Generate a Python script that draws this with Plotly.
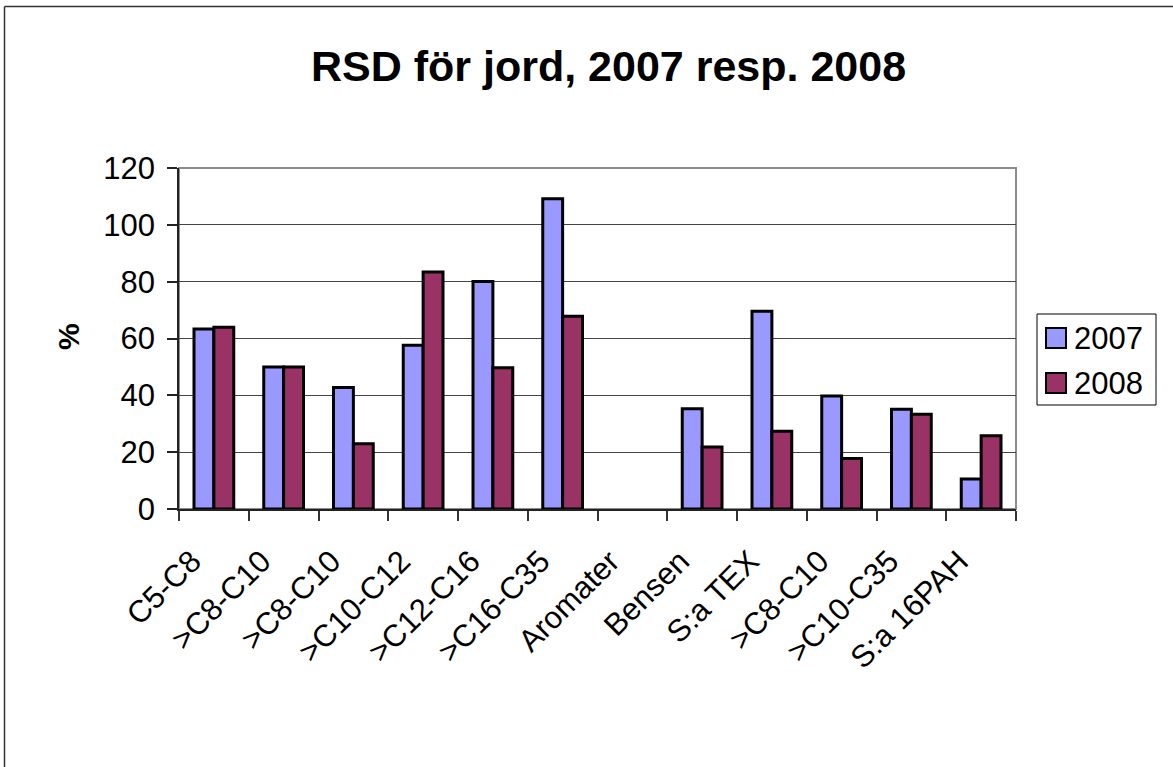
import plotly.graph_objects as go

# Data: relative standard deviation (%) for soil samples
categories = ["C5-C8", ">C8-C10", ">C8-C10", ">C10-C12", ">C12-C16", ">C16-C35",
              "Aromater", "Bensen", "S:a TEX", ">C8-C10", ">C10-C35", "S:a 16PAH"]
rsd_2007 = [63.3, 50.0, 42.8, 57.6, 80.1, 109.2, None, 35.3, 69.6, 39.8, 35.1, 10.6]
rsd_2008 = [64.0, 50.0, 23.0, 83.4, 49.7, 67.8, None, 21.8, 27.4, 17.8, 33.3, 25.8]
series_names = ["2007", "2008"]
series_colors = ["#9999FF", "#993366"]
y_ticks = [0, 20, 40, 60, 80, 100, 120]

W, H = 1173, 767
ML, MR, MT, MB = 179, 157, 168, 258
PW, PH = W - ML - MR, H - MT - MB
FONT = "Liberation Sans, Arial, sans-serif"


def px_x(x):
    return (x - ML) / PW


def px_y(y):
    return (H - MB - y) / PH


pos = list(range(len(categories)))

fig = go.Figure()
for name, vals, col in zip(series_names, [rsd_2007, rsd_2008], series_colors):
    fig.add_trace(go.Bar(
        x=pos, y=vals, name=name, showlegend=False,
        marker=dict(color=col, line=dict(color="black", width=3)),
    ))

shapes = []
annotations = []

# plot-area frame (grey)
shapes.append(dict(type="rect", xref="paper", yref="paper", x0=0, x1=1, y0=0, y1=1,
                   line=dict(color="#8c8c8c", width=2), layer="below"))

# chart outer border
shapes.append(dict(type="line", xref="paper", yref="paper",
                   x0=px_x(4.5), x1=px_x(W + 2), y0=px_y(6.5), y1=px_y(6.5),
                   line=dict(color="#333333", width=1.5)))
shapes.append(dict(type="line", xref="paper", yref="paper",
                   x0=px_x(4.5), x1=px_x(4.5), y0=px_y(6.5), y1=px_y(H + 2),
                   line=dict(color="#333333", width=1.5)))

# legend box
shapes.append(dict(type="rect", xref="paper", yref="paper",
                   x0=px_x(1037), x1=px_x(1156), y0=px_y(405), y1=px_y(314),
                   line=dict(color="black", width=1), fillcolor="white"))
for i, (name, col) in enumerate(zip(series_names, series_colors)):
    cy = 338 + 45 * i
    shapes.append(dict(type="rect", xref="paper", yref="paper",
                       x0=px_x(1046), x1=px_x(1066), y0=px_y(cy + 10), y1=px_y(cy - 10),
                       line=dict(color="black", width=2), fillcolor=col))
    annotations.append(dict(xref="paper", yref="paper", x=px_x(1072), y=px_y(cy),
                            xanchor="left", yanchor="middle", showarrow=False,
                            text=name, font=dict(family=FONT, size=31, color="black")))

# y-axis title
annotations.append(dict(xref="paper", yref="paper", x=px_x(68), y=px_y(337),
                        xanchor="center", yanchor="middle", showarrow=False,
                        text="<b>%</b>", textangle=-90,
                        font=dict(family=FONT, size=30, color="black")))

fig.update_layout(
    width=W, height=H,
    margin=dict(l=ML, r=MR, t=MT, b=MB, autoexpand=False),
    paper_bgcolor="white", plot_bgcolor="white",
    barmode="group", bargap=0.43, bargroupgap=0,
    title=dict(text="<b>RSD för jord, 2007 resp. 2008</b>",
               x=608.5 / W, xanchor="center", xref="container",
               y=1 - 66 / H, yanchor="middle", yref="container",
               font=dict(family=FONT, size=43, color="black")),
    xaxis=dict(range=[-0.5, len(categories) - 0.5], tickmode="array",
               tickvals=pos, ticktext=categories, tickangle=-45, ticks="",
               tickfont=dict(family=FONT, size=31, color="black"),
               ticklabelstandoff=20, ticklabelshift=-22,
               showline=True, linecolor="#222222", linewidth=1.5, showgrid=False,
               zeroline=False,
               minor=dict(tickmode="array",
                          tickvals=[p - 0.5 for p in pos] + [len(categories) - 0.5],
                          ticks="outside", ticklen=10, tickcolor="#333333",
                          tickwidth=1.5, showgrid=False)),
    yaxis=dict(range=[0, 120], tickmode="array", tickvals=y_ticks,
               ticks="outside", ticklen=10, tickcolor="#222222", tickwidth=1.5,
               tickfont=dict(family=FONT, size=31, color="black"),
               ticklabelstandoff=6,
               showline=True, linecolor="#222222", linewidth=1.5,
               showgrid=True, gridcolor="#444444", gridwidth=1, zeroline=False),
    shapes=shapes, annotations=annotations,
)

fig.write_html("out.html")
